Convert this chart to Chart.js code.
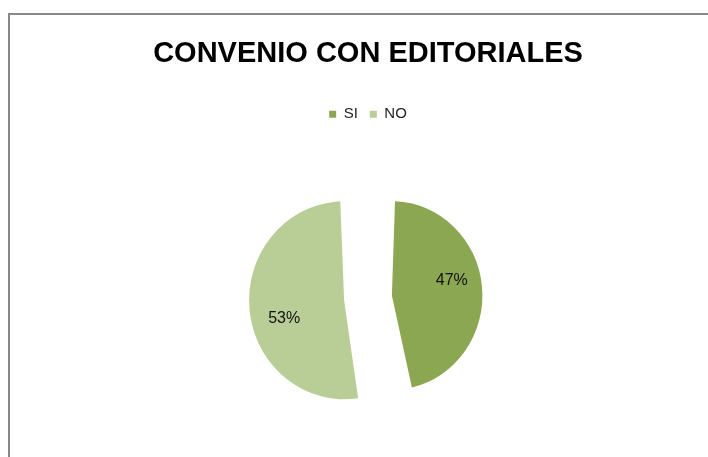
<!DOCTYPE html>
<html>
<head>
<meta charset="utf-8">
<script src="https://cdn.jsdelivr.net/npm/chart.js@4"></script>
<style>
  html, body { margin: 0; padding: 0; background: #fff; overflow: hidden; }
  #frame {
    position: absolute; left: 8px; top: 13px; right: -10px; bottom: -10px;
    border-top: 2px solid #878787; border-left: 2px solid #878787;
  }
  #wrap { position: absolute; left: 0; top: 0; width: 708px; height: 480px; }
</style>
</head>
<body>
<div id="frame"></div>
<div id="wrap"><canvas id="pieChart"></canvas></div>
<script>
  const titleText = 'CONVENIO CON EDITORIALES';
  const categories = ['SI', 'NO'];
  const percents = [47, 53];
  const sliceColors = ['#8CA752', '#B9CE97'];

  // how far each slice is pulled out; Chart.js moves an arc by offset / 4
  // and also grows its radius by the same amount
  const explode = 24;
  const pieRadius = 95;
  const stretchY = 1.042;   // pie is a touch taller than wide

  // slightly stretched pie plus the percentage text inside each slice
  const pieExtras = {
    id: 'pieExtras',
    beforeDatasetsDraw(chart) {
      const ctx = chart.ctx;
      const arc = chart.getDatasetMeta(0).data[0];
      ctx.save();
      ctx.translate(arc.x, arc.y);
      ctx.scale(1, stretchY);
      ctx.translate(-arc.x, -arc.y);
    },
    afterDatasetsDraw(chart) {
      const ctx = chart.ctx;
      ctx.restore();
      const meta = chart.getDatasetMeta(0);
      ctx.save();
      ctx.font = '16px "Liberation Sans", Arial, sans-serif';
      ctx.fillStyle = '#111';
      ctx.textAlign = 'center';
      ctx.textBaseline = 'middle';
      meta.data.forEach((arc, i) => {
        const p = arc.getProps(['x', 'y', 'startAngle', 'endAngle'], true);
        const mid = (p.startAngle + p.endAngle) / 2 - 0.12;
        const d = explode + pieRadius * 0.65;
        ctx.fillText(percents[i] + '%', p.x + Math.cos(mid) * d, p.y + Math.sin(mid) * d * stretchY + 2);
      });
      ctx.restore();
    }
  };

  const ctx = document.getElementById('pieChart').getContext('2d');
  const pieChart = new Chart(ctx, {
    type: 'pie',
    data: {
      labels: categories,
      datasets: [{
        data: percents,
        backgroundColor: sliceColors,
        borderWidth: 0,
        offset: explode * 4
      }]
    },
    options: {
      responsive: true,
      maintainAspectRatio: false,
      animation: false,
      radius: pieRadius - explode,
      layout: { padding: { left: 28, right: 0, top: 0, bottom: 16 } },
      plugins: {
        title: {
          display: true,
          text: titleText,
          color: '#000',
          font: { family: '"Liberation Sans", Arial, sans-serif', size: 29, weight: 'bold' },
          padding: { top: 37, bottom: 23 }
        },
        legend: {
          position: 'top',
          labels: {
            boxWidth: 7,
            boxHeight: 7,
            padding: 12,
            color: '#222',
            font: { family: '"Liberation Sans", Arial, sans-serif', size: 15 }
          }
        },
        tooltip: { enabled: false }
      }
    },
    plugins: [pieExtras]
  });
</script>
</body>
</html>
